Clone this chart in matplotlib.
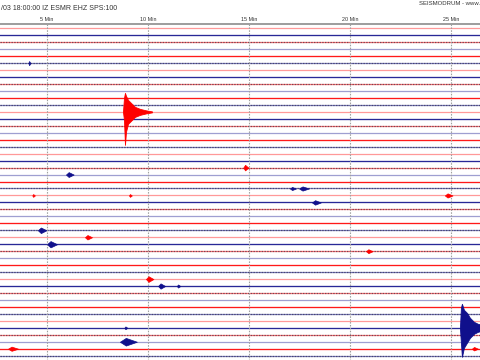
import matplotlib
matplotlib.use('Agg')
import matplotlib.pyplot as plt

# ---------------- data ----------------
N_LINES = 48                      # 30-min lines (24 h)
X_MIN, X_MAX = 2.673, 26.44       # visible minute window (cropped helicorder)
tick_minutes = [5, 10, 15, 20, 25]
tick_labels = ['5 Min', '10 Min', '15 Min', '20 Min', '25 Min']
title_text = '/03 18:00:00 IZ ESMR EHZ SPS:100'
credit_text = 'SEISMODRUM - www.'

# big event 1 (red, line 12)
ev1_line = 12
ev1_t = [8.762, 8.812, 8.861, 8.911, 9.010, 9.158, 9.356, 9.604, 9.901, 10.198]
ev1_up = [0.0, 2.01, 2.73, 2.30, 1.72, 1.29, 0.72, 0.43, 0.22, 0.07]
ev1_dn = [0.0, 1.15, 4.74, 2.87, 1.72, 1.29, 0.72, 0.43, 0.22, 0.07]

# big event 2 (blue, line 43)
ev2_line = 43
ev2_t = [25.446, 25.495, 25.545, 25.644, 25.792, 25.941, 26.139, 26.337, 26.535]
ev2_up = [0.0, 2.87, 3.45, 2.58, 2.15, 1.44, 0.86, 0.57, 0.43]
ev2_dn = [0.0, 2.15, 4.16, 2.87, 2.15, 1.44, 0.86, 0.57, 0.43]

# small events: line index, start minute, end minute, amplitude (line units)
blip_line = [5, 21, 29, 30, 31, 24, 24, 20, 23, 23, 25, 24, 32, 36, 37, 37, 45, 46, 46, 43]
blip_start = [4.08, 5.94, 4.55, 6.88, 5.00, 4.27, 9.06, 14.72, 17.03, 17.48, 18.12, 24.70, 20.80, 9.90, 10.50, 11.43, 8.61, 3.07, 26.04, 8.83]
blip_end = [4.18, 6.32, 4.97, 7.23, 5.50, 4.40, 9.20, 14.97, 17.33, 17.97, 18.56, 25.08, 21.12, 10.27, 10.85, 11.60, 9.45, 3.57, 26.34, 8.98]
blip_amp = [0.30, 0.35, 0.40, 0.32, 0.45, 0.20, 0.20, 0.40, 0.22, 0.30, 0.32, 0.30, 0.28, 0.40, 0.38, 0.22, 0.55, 0.30, 0.25, 0.20]

RED = '#ff0000'
BLUE = '#10108c'
GRID = '#a0a0a0'

# ---------------- figure ----------------
fig = plt.figure(figsize=(4.8, 3.6), dpi=100)
ax = fig.add_axes([0, 0, 1, 1])
ax.set_xlim(X_MIN, X_MAX)
ax.set_ylim(-47.62, 4.06)
ax.axis('off')

plt.rcParams['font.family'] = ['Liberation Sans', 'DejaVu Sans']

def line_color(k):
    return RED if k % 2 == 0 else BLUE

# trace baselines
for k in range(N_LINES):
    c = line_color(k)
    ph = k % 3
    if ph == 0:
        ax.plot([X_MIN, X_MAX], [-k, -k], color=c, lw=0.9, alpha=0.4, zorder=2)
    elif ph == 1:
        ax.plot([X_MIN, X_MAX], [-k, -k], color=c, lw=0.95, alpha=0.9, zorder=2)
    else:
        ax.plot([X_MIN, X_MAX], [-k, -k], color=c, lw=0.9, alpha=0.55, zorder=2)
        ax.plot([X_MIN, X_MAX], [-k, -k], color='#22223a', lw=0.9, alpha=0.6,
                dashes=(1.1, 1.1), zorder=3)

# top border and minute grid
ax.plot([X_MIN, X_MAX], [0.62, 0.62], color='#8c8c8c', lw=1.2, zorder=4)
for m, lab in zip(tick_minutes, tick_labels):
    ax.plot([m, m], [0.62, -47.62], color=GRID, lw=0.8, dashes=(1.4, 1.2), zorder=5)
    ax.text(m, 1.3, lab, ha='center', va='center', fontsize=3.9, color='#333333')

# events
ax.fill_between(ev1_t, [-ev1_line + u for u in ev1_up], [-ev1_line - d for d in ev1_dn],
                color=line_color(ev1_line), lw=0.6, zorder=6)
ax.fill_between(ev2_t, [-ev2_line + u for u in ev2_up], [-ev2_line - d for d in ev2_dn],
                color=line_color(ev2_line), lw=0.6, zorder=6)
for k, s, e, a in zip(blip_line, blip_start, blip_end, blip_amp):
    pk = s + (e - s) * 0.35
    ax.fill_between([s, pk, e], [-k, -k + a, -k], [-k, -k - a, -k],
                    color=line_color(k), lw=0.5, zorder=6)

# header texts
ax.text(2.72, 2.91, title_text, ha='left', va='center', fontsize=5.0, color='#333333')
ax.text(X_MAX, 3.62, credit_text, ha='right', va='center', fontsize=4.3, color='#333333')

fig.savefig('out.png', dpi=100)
